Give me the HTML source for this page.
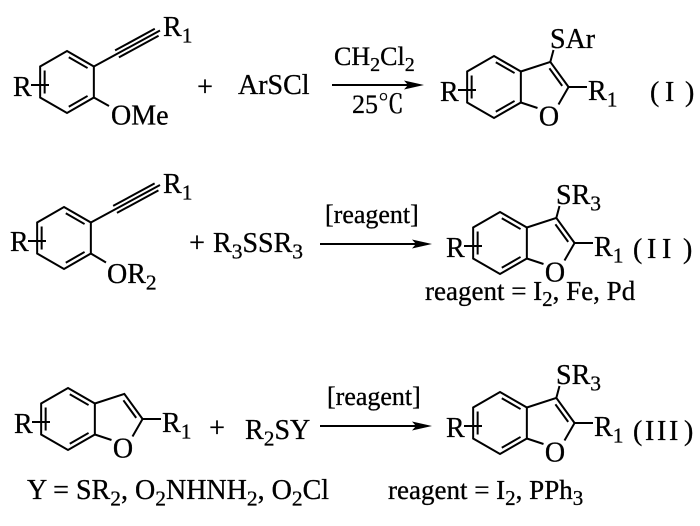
<!DOCTYPE html>
<html>
<head>
<meta charset="utf-8">
<style>
  html,body{margin:0;padding:0;background:#fff;}
  svg{display:block;}
  text{font-family:"Liberation Serif","Noto Serif CJK SC",serif;font-size:28px;fill:#000;stroke:#000;stroke-width:0.3px;}
  .s{font-size:21.5px;}
  .c{font-size:26px;}
  .cs{font-size:20px;}
  .rg{font-size:26px;}
  .lb{font-size:27px;}
  .lbs{font-size:21px;}
</style>
</head>
<body>
<svg width="700" height="526" viewBox="0 0 700 526" xmlns="http://www.w3.org/2000/svg" xmlns:xlink="http://www.w3.org/1999/xlink">
<defs>
  <g id="hex" fill="none" stroke="#000" stroke-width="2">
    <polygon points="0,-31 26.85,-15.5 26.85,15.5 0,31 -26.85,15.5 -26.85,-15.5"/>
    <path d="M1.78,-24.78L20.57,-13.93M20.57,13.93L1.78,24.78M-22.35,-11.5L-22.35,11.5M-36,3L-18,3"/>
  </g>
  <g id="bf" fill="none" stroke="#000" stroke-width="2">
    <use href="#hex" xlink:href="#hex"/>
    <path d="M26.85,-15.5L56.33,-25.08L74.56,0M74.56,0L64.5,17.5M26.85,15.5L43.5,21M55.42,-18.67L68.19,-1.11M74.56,0L93,0"/>
  </g>
</defs>
<rect width="700" height="526" fill="#fff"/>

<!-- ============ Reaction I ============ -->
<use href="#hex" xlink:href="#hex" x="67" y="82"/>
<g fill="none" stroke="#000" stroke-width="2">
  <path d="M93.85,66.5L160,30.5M118.9,57.4L158.6,35.8M115.1,50.4L154.8,28.8"/>
  <path d="M93.85,97.5L109,106"/>
</g>
<text x="13" y="96">R</text>
<text x="163" y="36">R<tspan class="s" dy="6.5">1</tspan></text>
<text x="111" y="124.5">OMe</text>
<text x="205" y="96" text-anchor="middle">+</text>
<text x="238" y="94">ArSCl</text>
<text class="c" x="334" y="65">CH<tspan class="cs" dy="6">2</tspan><tspan dy="-6">Cl</tspan><tspan class="cs" dy="6">2</tspan></text>
<text class="c" x="352" y="113">25℃</text>
<path d="M332,85L410,85" stroke="#000" stroke-width="2" fill="none"/>
<polygon points="424,85 404,80.5 408,85 404,89.5" fill="#000"/>

<use href="#bf" xlink:href="#bf" x="494" y="87"/>
<path d="M550.33,61.92L553.5,50" stroke="#000" stroke-width="2" fill="none"/>
<text x="440" y="101">R</text>
<text x="550" y="48">SAr</text>
<text x="549" y="125.5" text-anchor="middle">O</text>
<text x="588" y="100">R<tspan class="s" dy="6.5">1</tspan></text>
<text y="101"><tspan x="650">(</tspan><tspan x="665">I</tspan><tspan x="685">)</tspan></text>

<!-- ============ Reaction II ============ -->
<use href="#hex" xlink:href="#hex" x="64" y="238"/>
<g fill="none" stroke="#000" stroke-width="2">
  <path d="M90.85,222.5L160,185M116.96,212.9L158.45,190.4M113.14,205.9L154.63,183.4"/>
  <path d="M90.85,253.5L106,262.5"/>
</g>
<text x="10" y="251">R</text>
<text x="163" y="193">R<tspan class="s" dy="6.5">1</tspan></text>
<text x="107" y="283">OR<tspan class="s" dy="6.5">2</tspan></text>
<text x="197" y="252" text-anchor="middle">+</text>
<text x="213" y="252">R<tspan class="s" dy="6.5">3</tspan><tspan dy="-6.5">SSR</tspan><tspan class="s" dy="6.5">3</tspan></text>
<text class="rg" x="325" y="223">[reagent]</text>
<path d="M320,244L418,244" stroke="#000" stroke-width="2" fill="none"/>
<polygon points="432,244 412,239.5 416,244 412,248.5" fill="#000"/>

<use href="#bf" xlink:href="#bf" x="500" y="243"/>
<path d="M556.33,217.92L559.5,206" stroke="#000" stroke-width="2" fill="none"/>
<text x="446" y="257">R</text>
<text x="556" y="204">SR<tspan class="s" dy="6.5">3</tspan></text>
<text x="555" y="281.5" text-anchor="middle">O</text>
<text x="594" y="256">R<tspan class="s" dy="6.5">1</tspan></text>
<text y="258"><tspan x="633">(</tspan><tspan x="647">I</tspan><tspan x="662">I</tspan><tspan x="683">)</tspan></text>
<text class="lb" x="425" y="300">reagent = I<tspan class="lbs" dy="6">2</tspan><tspan dy="-6">, Fe, Pd</tspan></text>

<!-- ============ Reaction III ============ -->
<use href="#bf" xlink:href="#bf" x="68" y="419"/>
<text x="14" y="433">R</text>
<text x="123" y="457.5" text-anchor="middle">O</text>
<text x="162" y="432">R<tspan class="s" dy="6.5">1</tspan></text>
<text x="217" y="437" text-anchor="middle">+</text>
<text x="245" y="439">R<tspan class="s" dy="6.5">2</tspan><tspan dy="-6.5">SY</tspan></text>
<text class="rg" x="327" y="405">[reagent]</text>
<path d="M320,426L418,426" stroke="#000" stroke-width="2" fill="none"/>
<polygon points="432,426 412,421.5 416,426 412,430.5" fill="#000"/>

<use href="#bf" xlink:href="#bf" x="500" y="423"/>
<path d="M556.33,397.92L559.5,386" stroke="#000" stroke-width="2" fill="none"/>
<text x="446" y="437">R</text>
<text x="556" y="384">SR<tspan class="s" dy="6.5">3</tspan></text>
<text x="555" y="461.5" text-anchor="middle">O</text>
<text x="594" y="436">R<tspan class="s" dy="6.5">1</tspan></text>
<text y="440"><tspan x="633">(</tspan><tspan x="645">I</tspan><tspan x="657">I</tspan><tspan x="669">I</tspan><tspan x="684">)</tspan></text>

<text x="27" y="499">Y = SR<tspan class="s" dy="6.5">2</tspan><tspan dy="-6.5">, O</tspan><tspan class="s" dy="6.5">2</tspan><tspan dy="-6.5">NHNH</tspan><tspan class="s" dy="6.5">2</tspan><tspan dy="-6.5">, O</tspan><tspan class="s" dy="6.5">2</tspan><tspan dy="-6.5">Cl</tspan></text>
<text class="lb" x="388" y="499">reagent = I<tspan class="lbs" dy="6">2</tspan><tspan dy="-6">, PPh</tspan><tspan class="lbs" dy="6">3</tspan></text>
</svg>
</body>
</html>
